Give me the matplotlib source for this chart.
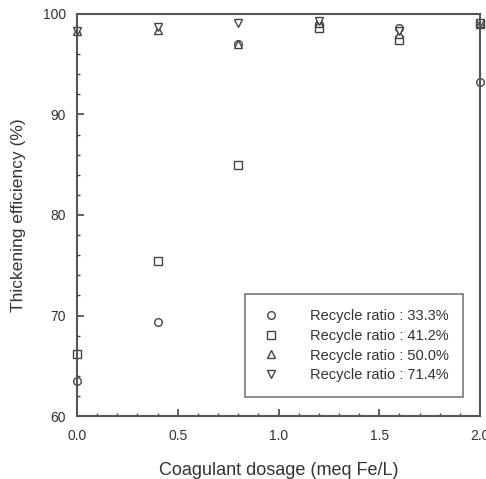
import matplotlib
matplotlib.use("Agg")
import matplotlib.pyplot as plt
from matplotlib.ticker import MultipleLocator

plt.rcParams['font.family'] = ['Liberation Sans', 'DejaVu Sans']

dosage = [0.0, 0.4, 0.8, 1.2, 1.6, 2.0]
r333 = [63.5, 69.4, 97.0, 99.0, 98.6, 93.2]
r412 = [66.2, 75.4, 85.0, 98.6, 97.4, 99.0]
r500 = [98.3, 98.4, 97.0, 99.1, 98.0, 99.1]
r714 = [98.3, 98.7, 99.1, 99.3, 98.3, 99.1]

series = [
    (r333, 'o', 'Recycle ratio : 33.3%'),
    (r412, 's', 'Recycle ratio : 41.2%'),
    (r500, '^', 'Recycle ratio : 50.0%'),
    (r714, 'v', 'Recycle ratio : 71.4%'),
]

fig = plt.figure(figsize=(4.86, 4.79), dpi=100)
ax = fig.add_axes([77/486, 1 - 416/479, (480-77)/486, (416-14)/479])

gray = '#444444'
for vals, m, lab in series:
    ax.plot(dosage, vals, linestyle='none', marker=m, markersize=5.5,
            markerfacecolor='white', markeredgecolor=gray, markeredgewidth=1.0,
            label=lab, clip_on=False)

ax.set_xlim(0, 2.0)
ax.set_ylim(60, 100)
ax.xaxis.set_major_locator(MultipleLocator(0.5))
ax.xaxis.set_minor_locator(MultipleLocator(0.1))
ax.yaxis.set_major_locator(MultipleLocator(10))
ax.yaxis.set_minor_locator(MultipleLocator(2))
ax.tick_params(which='both', direction='in', top=False, right=False,
               color=gray, labelcolor='#333333', labelsize=10)
ax.tick_params(axis='x', which='major', pad=9)
ax.tick_params(axis='y', which='major', pad=8)
ax.tick_params(which='major', length=5, width=1.2)
ax.tick_params(which='minor', length=2.5, width=1.0)
for s in ax.spines.values():
    s.set_color('#555555')
    s.set_linewidth(1.5)

ax.set_xlabel('Coagulant dosage (meq Fe/L)', fontsize=13, color='#333333', labelpad=14)
ax.set_ylabel('Thickening efficiency (%)', fontsize=12.5, color='#333333', labelpad=12)

leg = ax.legend(loc='lower right', bbox_to_anchor=((463-77)/403, (416-397)/402),
                fontsize=10.5, frameon=True, fancybox=False, edgecolor='#555555',
                handletextpad=1.9, borderpad=1.0, labelspacing=0.4,
                borderaxespad=0, handlelength=1.5, labelcolor='#333333')
leg.get_frame().set_linewidth(1.2)

fig.savefig('out.png', dpi=100)
